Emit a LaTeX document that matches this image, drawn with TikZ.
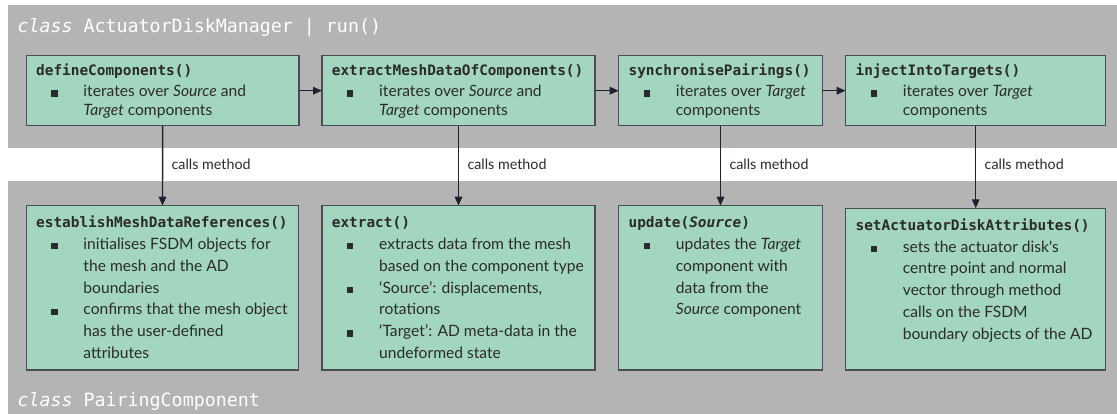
\documentclass[tikz,border=0pt]{standalone}
\usepackage{fontspec}
\setmainfont{Lato}[Ligatures=TeXOff]
\setmonofont{DejaVu Sans Mono}
\usetikzlibrary{arrows.meta,calc}

\definecolor{bandgray}{HTML}{B4B4B4}
\definecolor{mint}{HTML}{A2D6BE}
\definecolor{edgegray}{HTML}{4A4E54}
\definecolor{ink}{HTML}{2B2B2B}
\definecolor{wire}{HTML}{1F2330}

% square bullet and hanging column for the method descriptions
\newcommand\bsq{\rule{6.2pt}{6.2pt}}
\newcommand\bcol{\makebox[47.3pt][l]{\hspace{15.2pt}\bsq}}
\newcommand\mname[1]{\multicolumn{2}{@{}l@{}}{\ttfamily\bfseries\fontsize{14.4}{19}\selectfont #1}}
\newcommand\topfont{\fontsize{15.6}{19.3}\selectfont}
\newcommand\lowfont{\fontsize{15.6}{21.8}\selectfont}

\tikzset{
  bandfill/.style={fill=bandgray, draw=none},
  methodbox/.style={rectangle, draw=edgegray, fill=mint, line width=1.1pt,
    inner sep=0pt, outer sep=0pt, anchor=north west},
  methodtext/.style={anchor=base west, inner sep=0pt, text=ink, align=left},
  flow/.style={draw=wire, line width=1.4pt, -{Triangle[length=9pt,width=7.5pt]}},
  calltag/.style={anchor=west, inner sep=0pt, xshift=8.3pt, text=ink,
    font=\fontsize{14.3}{16}\selectfont},
  heading/.style={anchor=base west, inner sep=0pt, text=white,
    font=\ttfamily\fontsize{18.3}{22}\selectfont},
}

\begin{document}
\begin{tikzpicture}[x=1pt, y=-1pt]
\useasboundingbox (0,0) rectangle (1117,414);

% class bands
\fill[bandfill] (8,5) rectangle (1117,147.7);
\fill[bandfill] (8,181) rectangle (1117,414);

\node[heading] (hmgr) at (17.3,32.4) {\textit{class} ActuatorDiskManager | run()};
\node[heading] (hpair) at (17.3,406) {\textit{class} PairingComponent};

% run() steps
\node[methodbox, minimum width=272.7pt, minimum height=70pt] (b1) at (26.3,55.7) {};
\node[methodbox, minimum width=273pt,   minimum height=70pt] (b2) at (322,55.7) {};
\node[methodbox, minimum width=203.6pt, minimum height=70pt] (b3) at (618.7,55.7) {};
\node[methodbox, minimum width=260pt,   minimum height=70pt] (b4) at (845.7,55.7) {};

% PairingComponent methods
\node[methodbox, minimum width=272.4pt, minimum height=164.3pt] (c1) at (26.3,205.7) {};
\node[methodbox, minimum width=273pt,   minimum height=164.3pt] (c2) at (322,205.7) {};
\node[methodbox, minimum width=203.6pt, minimum height=164.3pt] (c3) at (618.7,205.7) {};
\node[methodbox, minimum width=260pt,   minimum height=161.7pt] (c4) at (845.7,208.3) {};

% texts of the run() steps
\node[methodtext] (t1) at ($(b1.north west)+(9.7,20.3)$) {\topfont
  \begin{tabular}[t]{@{}l@{}l@{}}
  \mname{defineComponents()}\\[1.4pt]
  \bcol & iterates over \textit{Source} and\\
        & \textit{Target} components
  \end{tabular}};
\node[methodtext] (t2) at ($(b2.north west)+(9.7,20.3)$) {\topfont
  \begin{tabular}[t]{@{}l@{}l@{}}
  \mname{extractMeshDataOfComponents()}\\[1.4pt]
  \bcol & iterates over \textit{Source} and\\
        & \textit{Target} components
  \end{tabular}};
\node[methodtext] (t3) at ($(b3.north west)+(9.7,20.3)$) {\topfont
  \begin{tabular}[t]{@{}l@{}l@{}}
  \mname{synchronisePairings()}\\[1.4pt]
  \bcol & iterates over \textit{Target}\\
        & components
  \end{tabular}};
\node[methodtext] (t4) at ($(b4.north west)+(9.7,20.3)$) {\topfont
  \begin{tabular}[t]{@{}l@{}l@{}}
  \mname{injectIntoTargets()}\\[1.4pt]
  \bcol & iterates over \textit{Target}\\
        & components
  \end{tabular}};

% texts of the PairingComponent methods
\node[methodtext] (u1) at ($(c1.north west)+(9.7,22)$) {\lowfont
  \begin{tabular}[t]{@{}l@{}l@{}}
  \mname{establishMeshDataReferences()}\\
  \bcol & initialises FSDM objects for\\
        & the mesh and the AD\\
        & boundaries\\
  \bcol & confirms that the mesh object\\
        & has the user-defined\\
        & attributes
  \end{tabular}};
\node[methodtext] (u2) at ($(c2.north west)+(9.7,22)$) {\lowfont
  \begin{tabular}[t]{@{}l@{}l@{}}
  \mname{extract()}\\
  \bcol & extracts data from the mesh\\
        & based on the component type\\
  \bcol & ‘Source’: displacements,\\
        & rotations\\
  \bcol & ‘Target’: AD meta-data in the\\
        & undeformed state
  \end{tabular}};
\node[methodtext] (u3) at ($(c3.north west)+(9.7,22)$) {\lowfont
  \begin{tabular}[t]{@{}l@{}l@{}}
  \mname{update(\textit{Source})}\\
  \bcol & updates the \textit{Target}\\
        & component with\\
        & data from the\\
        & \textit{Source} component
  \end{tabular}};
\node[methodtext] (u4) at ($(c4.north west)+(9.7,22)$) {\lowfont
  \begin{tabular}[t]{@{}l@{}l@{}}
  \mname{setActuatorDiskAttributes()}\\
  \bcol & sets the actuator disk's\\
        & centre point and normal\\
        & vector through method\\
        & calls on the FSDM\\
        & boundary objects of the AD
  \end{tabular}};

% sequence of run()
\draw[flow] (b1.east) -- (b2.west);
\draw[flow] (b2.east) -- (b3.west);
\draw[flow] (b3.east) -- (b4.west);

% method calls
\draw[flow] (b1.south) -- node[calltag, pos=0.48] (k1) {calls method} (c1.north);
\draw[flow] (b2.south) -- node[calltag, pos=0.48] (k2) {calls method} (c2.north);
\draw[flow] (b3.south) -- node[calltag, pos=0.48] (k3) {calls method} (c3.north);
\draw[flow] (b4.south) -- node[calltag, pos=0.464] (k4) {calls method} (c4.north);
\end{tikzpicture}
\end{document}
